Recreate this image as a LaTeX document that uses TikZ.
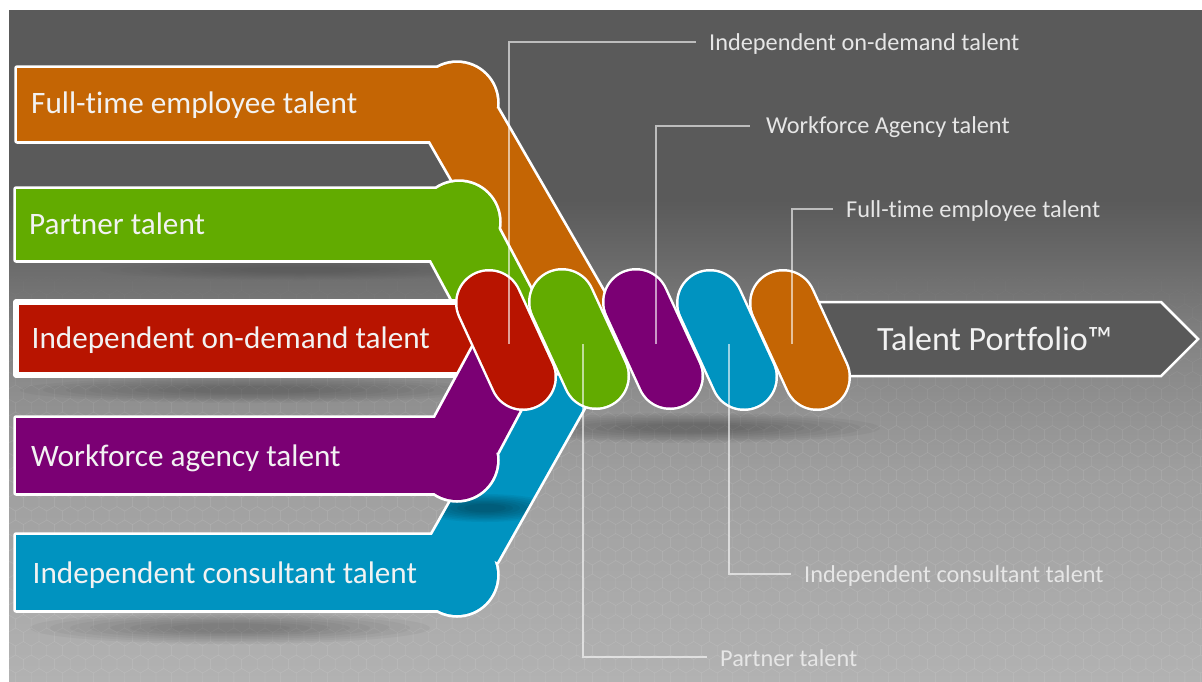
\documentclass[tikz,border=0pt]{standalone}
\usepackage{fontspec}
\setmainfont[Ligatures={NoCommon}]{Carlito}
\usetikzlibrary{calc}

\definecolor{bandOrange}{HTML}{C46504}
\definecolor{bandGreen}{HTML}{62AB00}
\definecolor{bandRed}{HTML}{B81400}
\definecolor{bandPurple}{HTML}{7B0074}
\definecolor{bandBlue}{HTML}{0093C0}
\definecolor{arrowGray}{HTML}{595959}
\definecolor{bgTop}{HTML}{5A5A5A}
\definecolor{bgMidA}{HTML}{6A6A6A}
\definecolor{bgMidB}{HTML}{858585}
\definecolor{bgMidC}{HTML}{9E9E9E}
\definecolor{bgLow}{HTML}{B2B2B2}
\definecolor{labelWhite}{HTML}{F2F2F2}
\definecolor{calloutWhite}{HTML}{E6E6E6}

\tikzset{
  halo/.style={draw=white, line width=5.5pt, line join=round},
  bandtext/.style={anchor=base west, inner sep=0pt, text=labelWhite,
    font=\fontsize{31.2}{31.2}\selectfont},
  callouttext/.style={anchor=base west, inner sep=0pt, text=calloutWhite,
    font=\fontsize{24.3}{24.3}\selectfont},
  calloutline/.style={draw=white, draw opacity=0.6, line width=2pt},
  pillhalo/.style={draw=white, line width=68pt, line cap=round},
  pillfill/.style={line width=63pt, line cap=round},
}

% soft shadow made of stacked translucent ellipses
\newcommand\softshade[5]{%
  \foreach \k in {1,...,8}{%
    \fill[black, opacity=#5] (#1,#2) ellipse
      [x radius={#3*(1.1-\k*0.1)}, y radius={#4*(1.1-\k*0.1)}];}}

% a ribbon = straight part + rounded elbow + slanted part, outlined as one
\newcommand\ribbon[4]{%
  \path[halo] #2 #3 #4;
  \fill[#1] #2; \fill[#1] #3; \fill[#1] #4;}

\begin{document}
\begin{tikzpicture}[x=1pt,y=-1pt]
\useasboundingbox (0,0) rectangle (1202,681);
\fill[white] (0,0) rectangle (1202,681);

% backdrop
\fill[bgTop] (9,10) rectangle (1202,201);
\shade[top color=bgTop, bottom color=bgMidA] (9,200) rectangle (1202,261);
\shade[top color=bgMidA, bottom color=bgMidB] (9,260) rectangle (1202,351);
\shade[top color=bgMidB, bottom color=bgMidC] (9,350) rectangle (1202,471);
\shade[top color=bgMidC, bottom color=bgLow] (9,470) rectangle (1202,681);

\begin{scope}
  \clip (9,10) rectangle (1202,681);
  % honeycomb texture
  \foreach \row in {0,...,34}{
    \pgfmathsetmacro\yy{232+\row*13.5}
    \pgfmathsetmacro\op{min(0.05,max(0,(\yy-250)/4000))}
    \pgfmathsetmacro\xoff{mod(\row,2)*7.8}
    \foreach \col in {0,...,77}{
      \draw[white, opacity=\op, line width=0.8pt]
        (\xoff+\col*15.59,\yy) +(90:9) -- +(30:9) -- +(-30:9)
        -- +(-90:9) -- +(-150:9) -- +(150:9) -- cycle;
    }
  }
  % shadows on the backdrop
  \softshade{250}{390}{230}{13}{0.03}
  \softshade{230}{628}{200}{16}{0.035}
  \softshade{690}{428}{190}{15}{0.035}
  \softshade{300}{270}{200}{10}{0.015}
\end{scope}

% ribbons
\ribbon{bandOrange}{(17,68) rectangle (470,141)}{(457,103) circle [radius=40]}
  {(430,141) -- (497,108) -- (634,345) -- (533,320) -- cycle}
\ribbon{bandGreen}{(16,189) rectangle (470,260)}{(459,222) circle [radius=40]}
  {(431,260) -- (498,228) -- (560,345) -- (466,325) -- cycle}
\path[halo, fill=bandRed] (16,302) rectangle (505,375);
\ribbon{bandBlue}{(16,535) rectangle (470,610)}{(457,575) circle [radius=40]}
  {(432,535) -- (497,562) -- (605,370) -- (520,380) -- cycle}
% shade cast by the purple ribbon onto the blue one
\begin{scope}
  \clip (432,535) -- (497,562) -- (605,370) -- (520,380) -- cycle;
  \softshade{485}{508}{70}{14}{0.05}
\end{scope}
\ribbon{bandPurple}{(16,418) rectangle (470,493)}{(457,460) circle [radius=40]}
  {(435,418) -- (497,453) -- (536,380) -- (476,342) -- cycle}

% output arrow
\path[draw=white, line width=2.5pt, fill=arrowGray, line join=miter]
  (800,302) -- (1161,302) -- (1198,339) -- (1161,376) -- (800,376) -- cycle;
\node[anchor=base west, inner sep=0pt, text=labelWhite,
  font=\fontsize{34}{34}\selectfont] (portfolio) at (877,350.7) {Talent Portfolio™};

% twisted strands
\coordinate (pillE1) at (783,303); \coordinate (pillE2) at (817,377);
\coordinate (pillD1) at (710,303); \coordinate (pillD2) at (744,377);
\coordinate (pillC1) at (636,302); \coordinate (pillC2) at (670,376);
\coordinate (pillB1) at (562,302); \coordinate (pillB2) at (596,376);
\coordinate (pillA1) at (489,303); \coordinate (pillA2) at (523,377);
\draw[pillhalo] (pillE1) -- (pillE2); \draw[pillfill, bandOrange] (pillE1) -- (pillE2);
\draw[pillhalo] (pillD1) -- (pillD2); \draw[pillfill, bandBlue] (pillD1) -- (pillD2);
\draw[pillhalo] (pillC1) -- (pillC2); \draw[pillfill, bandPurple] (pillC1) -- (pillC2);
\draw[pillhalo] (pillB1) -- (pillB2); \draw[pillfill, bandGreen] (pillB1) -- (pillB2);
\draw[pillhalo] (pillA1) -- (pillA2); \draw[pillfill, bandRed] (pillA1) -- (pillA2);

% ribbon labels
\node[bandtext] (srcFull) at (31,113.5) {Full-time employee talent};
\node[bandtext] (srcPartner) at (29,234) {Partner talent};
\node[bandtext] (srcOnDemand) at (31.5,348.3) {Independent on-demand talent};
\node[bandtext] (srcAgency) at (31,466.5) {Workforce agency talent};
\node[bandtext] (srcConsult) at (32.5,583.3) {Independent consultant talent};

% callouts
\coordinate (tapA) at (509,344);
\coordinate (tapB) at (583,344);
\coordinate (tapC) at (656,344);
\coordinate (tapD) at (729,344);
\coordinate (tapE) at (792,344);
\node[callouttext] (lblA) at (709,50) {Independent on-demand talent};
\node[callouttext] (lblC) at (766,133.5) {Workforce Agency talent};
\node[callouttext] (lblE) at (846,217) {Full-time employee talent};
\node[callouttext] (lblD) at (804,582.7) {Independent consultant talent};
\node[callouttext] (lblB) at (720,666) {Partner talent};
\coordinate (endA) at (696,42);
\coordinate (endC) at (750,126);
\coordinate (endE) at (833,209);
\coordinate (endD) at (791,573.5);
\coordinate (endB) at (707,656.5);
\draw[calloutline] (tapA) |- (endA);
\draw[calloutline] (tapC) |- (endC);
\draw[calloutline] (tapE) |- (endE);
\draw[calloutline] (tapD) |- (endD);
\draw[calloutline] (tapB) |- (endB);
\end{tikzpicture}
\end{document}
